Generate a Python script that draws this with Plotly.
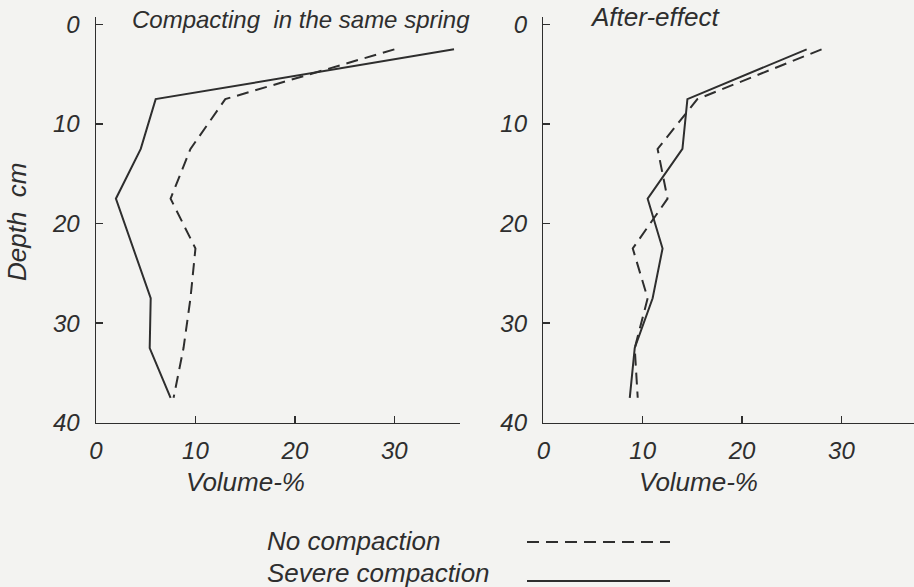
import plotly.graph_objects as go

# ---- data (Volume-% vs depth in cm) ----
left_severe_x = [36, 6, 4.5, 2, 5.5, 5.4, 7.5]
left_severe_d = [2.5, 7.5, 12.5, 17.5, 27.5, 32.5, 37.5]
left_none_x = [30, 13, 9.5, 7.5, 10, 9.5, 8.8, 7.8]
left_none_d = [2.5, 7.5, 12.5, 17.5, 22.5, 27.5, 32.5, 37.5]

right_severe_x = [26.5, 14.5, 14, 10.5, 12, 11, 9.2, 8.7]
right_severe_d = [2.5, 7.5, 12.5, 17.5, 22.5, 27.5, 32.5, 37.5]
right_none_x = [28, 15.5, 11.5, 12.5, 9, 10.5, 9.2, 9.5]
right_none_d = [2.5, 7.5, 12.5, 17.5, 22.5, 27.5, 32.5, 37.5]

x_ticks = [0, 10, 20, 30]
y_ticks = [0, 10, 20, 30, 40]
titles = ["Compacting  in the same spring", "After-effect"]
x_title = "Volume-%"
y_title = "Depth  cm"
legend_labels = ["No compaction", "Severe compaction"]

W, H = 914, 587
INK = "#2e2e2e"
BG = "#f3f3f1"
FONT = "Liberation Sans"
DASH = "12px,7px"

fig = go.Figure()

fig.add_trace(go.Scatter(x=left_none_x, y=left_none_d, mode="lines",
                         line=dict(color=INK, width=2, dash=DASH),
                         xaxis="x", yaxis="y", showlegend=False))
fig.add_trace(go.Scatter(x=left_severe_x, y=left_severe_d, mode="lines",
                         line=dict(color=INK, width=2),
                         xaxis="x", yaxis="y", showlegend=False))
fig.add_trace(go.Scatter(x=right_none_x, y=right_none_d, mode="lines",
                         line=dict(color=INK, width=2, dash=DASH),
                         xaxis="x2", yaxis="y2", showlegend=False))
fig.add_trace(go.Scatter(x=right_severe_x, y=right_severe_d, mode="lines",
                         line=dict(color=INK, width=2),
                         xaxis="x2", yaxis="y2", showlegend=False))

tickfont = dict(family=FONT, size=24, color=INK, style="italic")

def px_x(p):
    return p / W

def px_y(p):
    return 1 - p / H

y_dom = [px_y(422.7), px_y(16.5)]
y_range = [40, -0.8]

common_x = dict(showgrid=False, zeroline=False, showline=True, linecolor=INK,
                linewidth=1.5, ticks="inside", ticklen=7, tickcolor=INK,
                tickwidth=1.5, tickvals=x_ticks, tickfont=tickfont,
                ticklabelstandoff=6, automargin=False)
common_y = dict(showgrid=False, zeroline=False, showline=True, linecolor=INK,
                linewidth=1.5, ticks="inside", ticklen=7, tickcolor=INK,
                tickwidth=1.5, tickvals=y_ticks, tickfont=tickfont,
                range=y_range, domain=y_dom, ticklabelstandoff=10,
                automargin=False)

fig.update_layout(
    width=W, height=H,
    margin=dict(l=0, r=0, t=0, b=0, autoexpand=False),
    paper_bgcolor=BG, plot_bgcolor=BG,
    xaxis=dict(common_x, domain=[px_x(96), px_x(460)], range=[0, 36.6],
               anchor="y"),
    yaxis=dict(common_y, anchor="x"),
    xaxis2=dict(common_x, domain=[px_x(543.3), 1.0], range=[0, 37.3],
                anchor="y2"),
    yaxis2=dict(common_y, anchor="x2"),
)

ann_font = dict(family=FONT, size=24, color=INK, style="italic")
big_font = dict(family=FONT, size=26, color=INK, style="italic")
anns = [
    dict(text=titles[0], x=px_x(130), y=px_y(19), xanchor="left",
         yanchor="middle", font=ann_font),
    dict(text=titles[1], x=px_x(588), y=px_y(17), xanchor="left",
         yanchor="middle", font=big_font),
    dict(text=x_title, x=px_x(245), y=px_y(482), xanchor="center",
         yanchor="middle", font=big_font),
    dict(text=x_title, x=px_x(698), y=px_y(482), xanchor="center",
         yanchor="middle", font=big_font),
    dict(text=y_title, x=px_x(17), y=px_y(222), xanchor="center",
         yanchor="middle", textangle=-90, font=big_font),
]
for a in anns:
    fig.add_annotation(xref="paper", yref="paper", showarrow=False, **a)

leg_font = dict(family=FONT, size=26, color=INK, style="italic")
fig.add_annotation(text=legend_labels[0], x=px_x(265), y=px_y(541),
                   xref="paper", yref="paper", xanchor="left",
                   yanchor="middle", showarrow=False, font=leg_font)
fig.add_annotation(text=legend_labels[1], x=px_x(265), y=px_y(573),
                   xref="paper", yref="paper", xanchor="left",
                   yanchor="middle", showarrow=False, font=leg_font)
fig.add_shape(type="line", xref="paper", yref="paper",
              x0=px_x(527), x1=px_x(670), y0=px_y(542), y1=px_y(542),
              line=dict(color=INK, width=2, dash=DASH))
fig.add_shape(type="line", xref="paper", yref="paper",
              x0=px_x(527), x1=px_x(670), y0=px_y(581), y1=px_y(581),
              line=dict(color=INK, width=2))

fig.write_html(
    "out.html",
    config={"displayModeBar": False, "staticPlot": True},
    post_script=(
        "document.body.style.margin='0';"
        "document.body.style.overflow='hidden';"
        "document.documentElement.style.overflow='hidden';"
    ),
)
